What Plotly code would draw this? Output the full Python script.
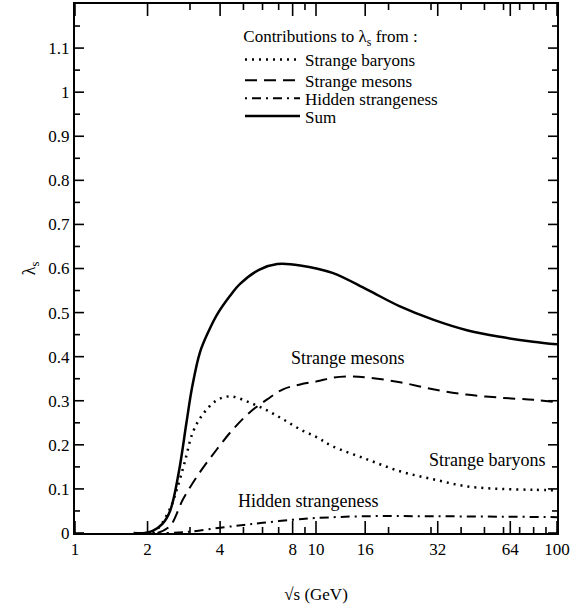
import plotly.graph_objects as go

# ---- data ----
sum_x = [1.75, 1.95, 2.1, 2.3, 2.48, 2.7, 2.9, 3.06, 3.3, 3.6, 3.88, 4.4, 4.84, 5.8, 6.9, 8.6, 11.7, 16.3, 22.3, 30.6, 42.3, 58, 79.6, 100]
sum_y = [0.0, 0.0, 0.005, 0.02, 0.05, 0.14, 0.25, 0.33, 0.41, 0.46, 0.495, 0.538, 0.565, 0.597, 0.61, 0.607, 0.59, 0.552, 0.514, 0.484, 0.46, 0.445, 0.434, 0.428]

bar_x = [2.1, 2.25, 2.5, 2.65, 2.85, 3.09, 3.4, 3.85, 4.4, 5.3, 6.27, 7.3, 8.6, 10.1, 11.7, 16.3, 22.3, 30.6, 42, 58, 80, 100]
bar_y = [0.0, 0.015, 0.06, 0.10, 0.16, 0.23, 0.27, 0.30, 0.31, 0.296, 0.278, 0.258, 0.235, 0.217, 0.197, 0.167, 0.14, 0.122, 0.106, 0.10, 0.098, 0.097]

mes_x = [2.2, 2.48, 2.81, 3.3, 3.88, 4.52, 5.32, 6.27, 7.3, 8.6, 10.1, 11.7, 13.8, 16.3, 22.3, 30.6, 42, 58, 80, 100]
mes_y = [0.0, 0.016, 0.077, 0.138, 0.19, 0.235, 0.274, 0.303, 0.326, 0.337, 0.344, 0.352, 0.355, 0.353, 0.342, 0.326, 0.314, 0.307, 0.302, 0.297]

hid_x = [2.4, 3, 4, 5, 6, 8, 10, 16, 30, 60, 100]
hid_y = [0.0, 0.003, 0.012, 0.018, 0.023, 0.03, 0.034, 0.038, 0.038, 0.037, 0.036]

x_tickvals = [1, 2, 4, 8, 10, 16, 32, 64, 100]
x_minor = [3, 5, 6, 7, 9, 20, 30, 40, 50, 60, 70, 80, 90]
y_tickvals = [0, 0.1, 0.2, 0.3, 0.4, 0.5, 0.6, 0.7, 0.8, 0.9, 1.0, 1.1]
y_ticktext = ["0", "0.1", "0.2", "0.3", "0.4", "0.5", "0.6", "0.7", "0.8", "0.9", "1", "1.1"]
y_minor = [0.05, 0.15, 0.25, 0.35, 0.45, 0.55, 0.65, 0.75, 0.85, 0.95, 1.05, 1.15]

FONT = "Liberation Serif"
H, T, B = 611, 2, 78
PH = H - T - B
X_RANGE = [0, 2]
Y_RANGE = [0, 1.2]


def py2paper(py):
    return 1 - (py - T) / PH


LEG_X = (240 - 75) / 482

fig = go.Figure()
fig.add_trace(go.Scatter(x=bar_x, y=bar_y, mode="lines", name="Strange baryons", legend="legend",
                         line=dict(color="black", width=2.5, dash="2px,5px", shape="spline")))
fig.add_trace(go.Scatter(x=mes_x, y=mes_y, mode="lines", name="Strange mesons", legend="legend2",
                         line=dict(color="black", width=2, dash="12px,7px", shape="spline")))
fig.add_trace(go.Scatter(x=hid_x, y=hid_y, mode="lines", name="Hidden strangeness", legend="legend3",
                         line=dict(color="black", width=2, dash="2px,5px,9px,5px", shape="spline")))
fig.add_trace(go.Scatter(x=sum_x, y=sum_y, mode="lines", name="Sum", legend="legend4",
                         line=dict(color="black", width=2.5, shape="spline")))

fig.add_annotation(x=1.129, y=0.398, xref="x", yref="y", text="Strange mesons", showarrow=False,
                   font=dict(family=FONT, size=18, color="black"))
fig.add_annotation(x=1.71, y=0.165, xref="x", yref="y", text="Strange baryons", showarrow=False,
                   font=dict(family=FONT, size=18, color="black"))
fig.add_annotation(x=0.967, y=0.072, xref="x", yref="y", text="Hidden strangeness", showarrow=False,
                   font=dict(family=FONT, size=18, color="black"))

# inward tick marks on all four frame edges, placed by the axes' own scales
TICK = dict(color="black", width=1.6)
for vals, ln in ((x_tickvals, 12), (x_minor, 6)):
    for v in vals:
        for anchor, sign in ((0, 1), (1, -1)):
            fig.add_shape(type="line", xref="x", yref="y domain", x0=v, x1=v,
                          ysizemode="pixel", yanchor=anchor, y0=0, y1=sign * ln,
                          line=TICK, layer="above")
for vals, ln in ((y_tickvals, 9), (y_minor, 5)):
    for v in vals:
        for anchor, sign in ((0, 1), (1, -1)):
            fig.add_shape(type="line", yref="y", xref="x domain", y0=v, y1=v,
                          xsizemode="pixel", xanchor=anchor, x0=0, x1=sign * ln,
                          line=TICK, layer="above")

legfont = dict(family=FONT, size=17, color="black")


def leg(py, **kw):
    d = dict(x=LEG_X, y=py2paper(py), xanchor="left", yanchor="middle",
             bgcolor="rgba(0,0,0,0)", borderwidth=0, itemwidth=55, font=legfont)
    d.update(kw)
    return d


fig.update_layout(
    width=572, height=H,
    margin=dict(l=75, r=15, t=T, b=B),
    paper_bgcolor="white", plot_bgcolor="white",
    font=dict(family=FONT, size=17, color="black"),
    showlegend=True,
    legend=dict(x=LEG_X, y=py2paper(18), xanchor="left", yanchor="top",
                bgcolor="rgba(0,0,0,0)", borderwidth=0, itemwidth=55, font=legfont,
                title=dict(text="Contributions to λ<sub>s</sub> from :", side="top center", font=legfont)),
    legend2=leg(79),
    legend3=leg(97),
    legend4=leg(115),
    xaxis=dict(
        type="log", range=X_RANGE,
        tickmode="array", tickvals=x_tickvals, ticktext=[str(v) for v in x_tickvals],
        ticks="", showline=True, linecolor="black", linewidth=2, mirror=True,
        showgrid=False, zeroline=False,
        title=dict(text="√s (GeV)", font=dict(family=FONT, size=17), standoff=30),
        tickfont=dict(family=FONT, size=17),
    ),
    yaxis=dict(
        range=Y_RANGE,
        tickmode="array", tickvals=y_tickvals, ticktext=y_ticktext,
        ticks="", showline=True, linecolor="black", linewidth=2, mirror=True,
        showgrid=False, zeroline=False,
        title=dict(text="λ<sub>s</sub>", font=dict(family=FONT, size=18), standoff=8),
        tickfont=dict(family=FONT, size=17),
    ),
)

fig.write_html("out.html")
